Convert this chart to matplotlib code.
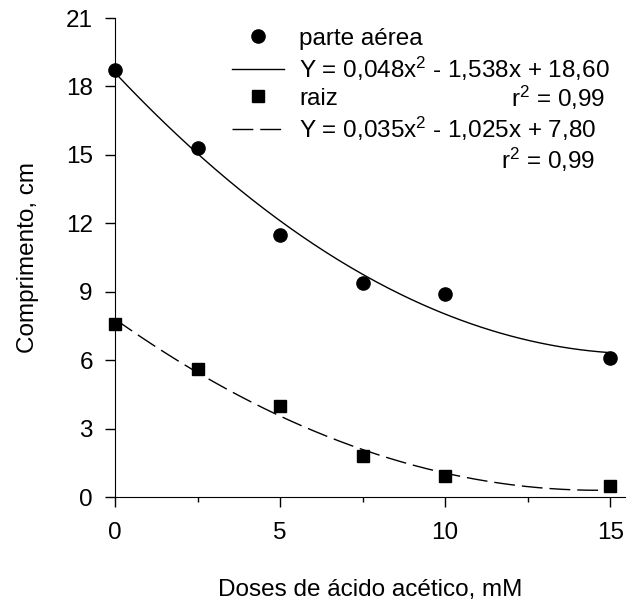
import numpy as np
import matplotlib
matplotlib.use("Agg")
import matplotlib.pyplot as plt

plt.rcParams["font.family"] = ["Liberation Sans", "DejaVu Sans"]
plt.rcParams["mathtext.fontset"] = "custom"
plt.rcParams["mathtext.rm"] = "Liberation Sans"
plt.rcParams["mathtext.default"] = "regular"

# doses (mM) and measured lengths (cm)
doses = [0, 2.5, 5, 7.5, 10, 15]
parte_aerea = [18.7, 15.3, 11.5, 9.4, 8.9, 6.1]
raiz = [7.6, 5.6, 4.0, 1.8, 0.9, 0.5]

# quadratic fits as printed on the chart: a*x^2 + b*x + c
fit_aerea = [0.048, -1.538, 18.60]
fit_raiz = [0.035, -1.025, 7.80]
r2_aerea = "0,99"
r2_raiz = "0,99"

x_ticks = [0, 5, 10, 15]
y_ticks = [0, 3, 6, 9, 12, 15, 18, 21]

FS = 17.5
DASH = (15, 5)

fig = plt.figure(figsize=(6.32, 6.01), dpi=100)
ax = fig.add_axes([0.182, 0.173, 0.807, 0.797])

xs = np.linspace(0, 15, 200)
ax.plot(xs, np.polyval(fit_aerea, xs), color="black", lw=1.0)
ax.plot(xs, np.polyval(fit_raiz, xs), color="black", lw=1.0, dashes=DASH)
ax.plot(doses, parte_aerea, "o", color="black", ms=9.5, clip_on=False)
ax.plot(doses, raiz, "s", color="black", ms=8.5, clip_on=False)

ax.set_xlim(0, 15.45)
ax.set_ylim(0, 21)
ax.set_xticks(x_ticks)
ax.set_xticks([2.5, 7.5, 12.5], minor=True)
ax.set_yticks(y_ticks)
ax.spines["top"].set_visible(False)
ax.spines["right"].set_visible(False)
ax.tick_params(axis="both", which="major", direction="out", length=7, width=1,
               labelsize=FS)
ax.tick_params(axis="x", which="major", pad=11)
ax.tick_params(axis="y", which="major", pad=9)
ax.tick_params(axis="x", which="minor", direction="out", length=3.5, width=1)
ax.set_xlabel("Doses de ácido acético, mM", fontsize=FS, labelpad=25)
ax.set_ylabel("Comprimento, cm", fontsize=FS, labelpad=19)

def eq_label(c):
    return "Y = {}x$^2$ - {}x + {}".format(
        f"{c[0]:.3f}".replace(".", ","),
        f"{abs(c[1]):.3f}".replace(".", ","),
        f"{c[2]:.2f}".replace(".", ","))

handles = [
    plt.Line2D([], [], ls="none", marker="o", color="black", ms=9.5),
    plt.Line2D([], [], color="black", lw=1.0),
    plt.Line2D([], [], ls="none", marker="s", color="black", ms=8.5),
    plt.Line2D([], [], color="black", lw=1.0, dashes=DASH),
]
labels = ["parte aérea", eq_label(fit_aerea), "raiz", eq_label(fit_raiz)]
ax.legend(handles, labels, loc="upper left", bbox_to_anchor=(0.229, 0.98),
          frameon=False, fontsize=FS, borderpad=0, borderaxespad=0,
          handlelength=2.14, handletextpad=0.62, labelspacing=0.2)

ax.text(0.961, 0.833, "r$^2$ = " + r2_aerea, transform=ax.transAxes,
        ha="right", va="center", fontsize=FS)
ax.text(0.941, 0.704, "r$^2$ = " + r2_raiz, transform=ax.transAxes,
        ha="right", va="center", fontsize=FS)

fig.savefig("out.png", dpi=100)
